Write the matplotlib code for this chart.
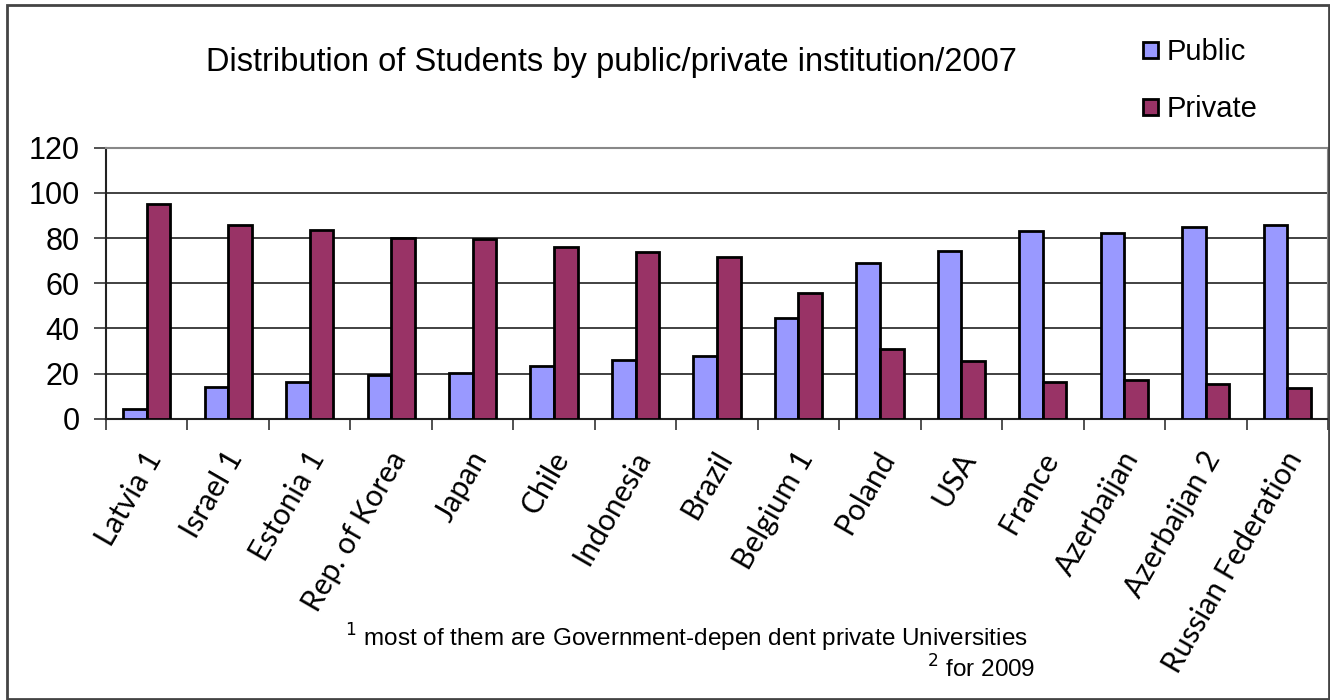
import matplotlib
matplotlib.use("Agg")
import matplotlib.pyplot as plt
from matplotlib.patches import Rectangle
import numpy as np

categories = ["Latvia 1", "Israel 1", "Estonia 1", "Rep. of Korea", "Japan", "Chile",
              "Indonesia", "Brazil", "Belgium 1", "Poland", "USA", "France",
              "Azerbaijan", "Azerbaijan 2", "Russian Federation"]
public = [4.2, 13.9, 16.1, 19.4, 20.1, 23.3, 26.0, 27.8, 44.5, 69.1, 74.4, 83.1, 82.4, 84.8, 85.8]
private = [95.1, 85.8, 83.7, 80.2, 79.4, 76.2, 73.8, 71.6, 55.5, 30.7, 25.7, 16.4, 17.0, 15.2, 13.5]
yticks = [0, 20, 40, 60, 80, 100, 120]

fig = plt.figure(figsize=(13.3, 7), dpi=100)
ax = fig.add_axes([106/1330, 1-418.7/700, (1328-106)/1330, (418.7-147.7)/700])

x = np.arange(len(categories))
w = 0.29
ax.bar(x - w/2, public, w, color="#9999FF", edgecolor="black", linewidth=2, label="Public", zorder=3)
ax.bar(x + w/2, private, w, color="#993366", edgecolor="black", linewidth=2, label="Private", zorder=3)

ax.set_xlim(-0.5, len(categories) - 0.5)
ax.set_ylim(0, 120)
ax.set_yticks(yticks)
ax.set_yticklabels([str(v) for v in yticks], fontsize=22, family="Liberation Sans")
ax.yaxis.grid(True, color="#333333", linewidth=1.3, zorder=0)
ax.set_axisbelow(True)

ax.set_xticks(np.arange(len(categories) + 1) - 0.5, minor=False)
ax.set_xticklabels([])
ax.set_xticks(x - 0.05, minor=True)
ax.set_xticklabels(categories, minor=True, rotation=60, ha="right", rotation_mode="anchor",
                   fontsize=21.5, family="Lato")
ax.tick_params(axis="x", which="minor", length=0, pad=20)
ax.tick_params(axis="x", which="major", length=8, width=1.2, color="#333333", direction="out")
ax.tick_params(axis="y", length=9, width=1.2, color="#333333", direction="out", pad=10)

for s in ["top", "right"]:
    ax.spines[s].set_color("#888888")
    ax.spines[s].set_linewidth(1.5)
for s in ["left", "bottom"]:
    ax.spines[s].set_color("#222222")
    ax.spines[s].set_linewidth(1.5)

fig.text(611/1330, 1-62/700, "Distribution of Students by public/private institution/2007",
         ha="center", va="center", fontsize=23.5, family="Liberation Sans")

leg = fig.legend(loc="upper left", bbox_to_anchor=(1117/1330, 1-12/700), frameon=False,
                 prop={"family": "Liberation Sans", "size": 21}, handlelength=0.5, handleheight=0.5,
                 handletextpad=0.3, labelspacing=1.0)
for p in leg.get_patches():
    p.set_linewidth(2)

fig.text(345/1330, 1-638/700, r"$^{1}$ most of them are Government-depen dent private Universities",
         ha="left", va="center", fontsize=17.5, family="Liberation Sans")
fig.text(1035/1330, 1-669/700, r"$^{2}$ for 2009",
         ha="right", va="center", fontsize=17.5, family="Liberation Sans")

fig.patches.append(Rectangle((7/1330, 1/700), 1322/1330, 694/700, transform=fig.transFigure,
                             fill=False, edgecolor="#444444", linewidth=2))

fig.savefig("out.png", dpi=100)
